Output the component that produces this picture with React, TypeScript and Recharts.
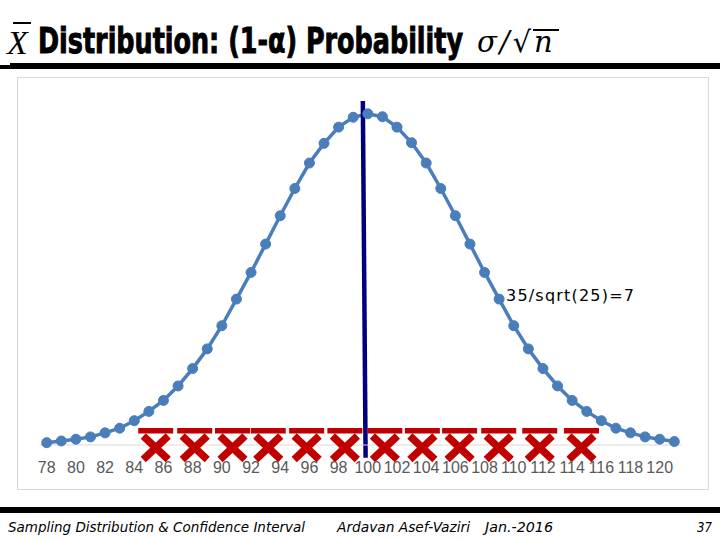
import React from 'react';
import { ComposedChart, Line, XAxis, YAxis, ReferenceDot, ReferenceLine } from 'recharts';

// sample mean values (one point per unit) and the height of the curve at each
const xValues = [
  78, 79, 80, 81, 82, 83, 84, 85, 86, 87, 88, 89, 90, 91, 92, 93, 94, 95, 96, 97, 98, 99,
  100, 101, 102, 103, 104, 105, 106, 107, 108, 109, 110, 111, 112, 113, 114, 115, 116, 117, 118, 119, 120, 121,
];
const density = [
  0.0004, 0.0007, 0.001, 0.0014, 0.0021, 0.0029, 0.0042, 0.0058, 0.0077, 0.0102, 0.0132, 0.0166,
  0.0206, 0.0252, 0.0298, 0.0347, 0.0396, 0.0443, 0.0487, 0.0521, 0.0549, 0.0566, 0.0572, 0.0567,
  0.0549, 0.0522, 0.0487, 0.0443, 0.0396, 0.0347, 0.0298, 0.0252, 0.0206, 0.0166, 0.0132, 0.0102,
  0.0077, 0.0058, 0.0042, 0.0029, 0.0021, 0.0014, 0.001, 0.0006,
];
const xTicks = [78, 80, 82, 84, 86, 88, 90, 92, 94, 96, 98, 100, 102, 104, 106, 108, 110, 112, 114, 116, 118, 120];

// red x-bar marks sitting on the axis
const markPositions = [85.47, 88.14, 90.73, 93.18, 95.81, 98.43, 101.17, 103.74, 106.29, 108.97, 111.78, 114.64];

// the vertical line near the mean
const meanLine = [
  { x: 99.66, y: 0.0594 },
  { x: 99.85, y: -0.0022 },
];

const annotation = '35/sqrt(25)=7';

const data = xValues.map((x, i) => ({ x, p: density[i] }));

const RED = '#c00000';
const BLUE = '#4a7ebb';

const XBarMark = (props: any) => {
  const { cx, cy } = props;
  if (cx == null || cy == null) return null;
  return (
    <g>
      <rect x={cx - 17.5} y={cy - 17} width={35} height={5.5} fill={RED} />
      <line x1={cx - 12.5} y1={cy - 9} x2={cx + 12.5} y2={cy + 14.5} stroke={RED} strokeWidth={7.5} />
      <line x1={cx + 12.5} y1={cy - 9} x2={cx - 12.5} y2={cy + 14.5} stroke={RED} strokeWidth={7.5} />
    </g>
  );
};

const Title = () => (
  <svg width={720} height={62} style={{ position: 'absolute', left: 0, top: 0 }}>
    <line x1={13} y1={23} x2={31} y2={23} stroke="#000" strokeWidth={2} />
    <text x={7} y={54} fontFamily="'Liberation Serif', serif" fontStyle="italic" fontSize={34}>
      X
    </text>
    <text
      x={38}
      y={53}
      fontFamily="'Liberation Sans Narrow', 'DejaVu Sans Condensed', 'Liberation Sans', sans-serif"
      fontWeight="bold"
      fontSize={36}
      stroke="#000"
      strokeWidth={0.9}
      textLength={425}
      lengthAdjust="spacingAndGlyphs"
    >
      Distribution: (1-α) Probability
    </text>
    <text
      x={477}
      y={52}
      fontFamily="'DejaVu Serif', 'Liberation Serif', serif"
      fontStyle="italic"
      fontSize={29}
      letterSpacing={3}
    >
      σ/√n
    </text>
    <line x1={533} y1={30} x2={559} y2={30} stroke="#000" strokeWidth={2} />
  </svg>
);

const Footer = () => (
  <svg width={720} height={40} style={{ position: 'absolute', left: 0, top: 500 }}>
    <rect x={0} y={7} width={720} height={6} fill="#000" />
    <g fontFamily="'Liberation Sans Narrow', 'DejaVu Sans Condensed', 'Liberation Sans', sans-serif" fontStyle="italic" fontSize={14}>
      <text x={8} y={32} textLength={297} lengthAdjust="spacingAndGlyphs">
        Sampling Distribution &amp; Confidence Interval
      </text>
      <text x={337} y={32} textLength={133} lengthAdjust="spacingAndGlyphs">
        Ardavan Asef-Vaziri
      </text>
      <text x={485} y={32} textLength={68} lengthAdjust="spacingAndGlyphs">
        Jan.-2016
      </text>
      <text x={697} y={32} textLength={15} lengthAdjust="spacingAndGlyphs">
        37
      </text>
    </g>
  </svg>
);

export default function App() {
  return (
    <div style={{ position: 'absolute', left: 0, top: 0, width: 720, height: 540, background: '#fff', overflow: 'hidden' }}>
      <Title />
      <div style={{ position: 'absolute', left: 10, top: 63, width: 710, height: 6, background: '#000' }} />
      <div style={{ position: 'absolute', left: 0, top: 65, width: 10, height: 4, background: '#000' }} />
      <div
        style={{
          position: 'absolute',
          left: 17,
          top: 77,
          width: 690,
          height: 411,
          border: '1px solid #d9d9d9',
        }}
      />
      <div style={{ position: 'absolute', left: 0, top: 0 }}>
        <ComposedChart width={720} height={540} data={data} margin={{ top: 97.6, right: 38.4, bottom: 65, left: 39.4 }}>
          <XAxis
            dataKey="x"
            type="number"
            domain={[77.5, 121.5]}
            ticks={xTicks}
            interval={0}
            height={30}
            tickSize={0}
            tickMargin={17}
            axisLine={{ stroke: '#d9d9d9', strokeWidth: 1 }}
            tick={{ fill: '#595959', fontSize: 16, fontFamily: "'Liberation Sans', sans-serif" }}
          />
          <YAxis hide domain={[0, 0.06]} />
          <Line
            type="linear"
            dataKey="p"
            stroke={BLUE}
            strokeWidth={3.5}
            dot={{ r: 5, fill: BLUE, stroke: BLUE, strokeWidth: 1 }}
            isAnimationActive={false}
          />
          {markPositions.map((m) => (
            <ReferenceDot key={m} x={m} y={0} ifOverflow="visible" shape={XBarMark} />
          ))}
          <ReferenceLine segment={meanLine} stroke="#000080" strokeWidth={4.5} ifOverflow="visible" />
        </ComposedChart>
      </div>
      <div
        style={{
          position: 'absolute',
          left: 506,
          top: 285,
          fontFamily: "'DejaVu Sans', sans-serif",
          fontSize: 16,
          letterSpacing: 1.2,
          color: '#000',
          lineHeight: '22px',
          whiteSpace: 'nowrap',
        }}
      >
        {annotation}
      </div>
      <Footer />
    </div>
  );
}
